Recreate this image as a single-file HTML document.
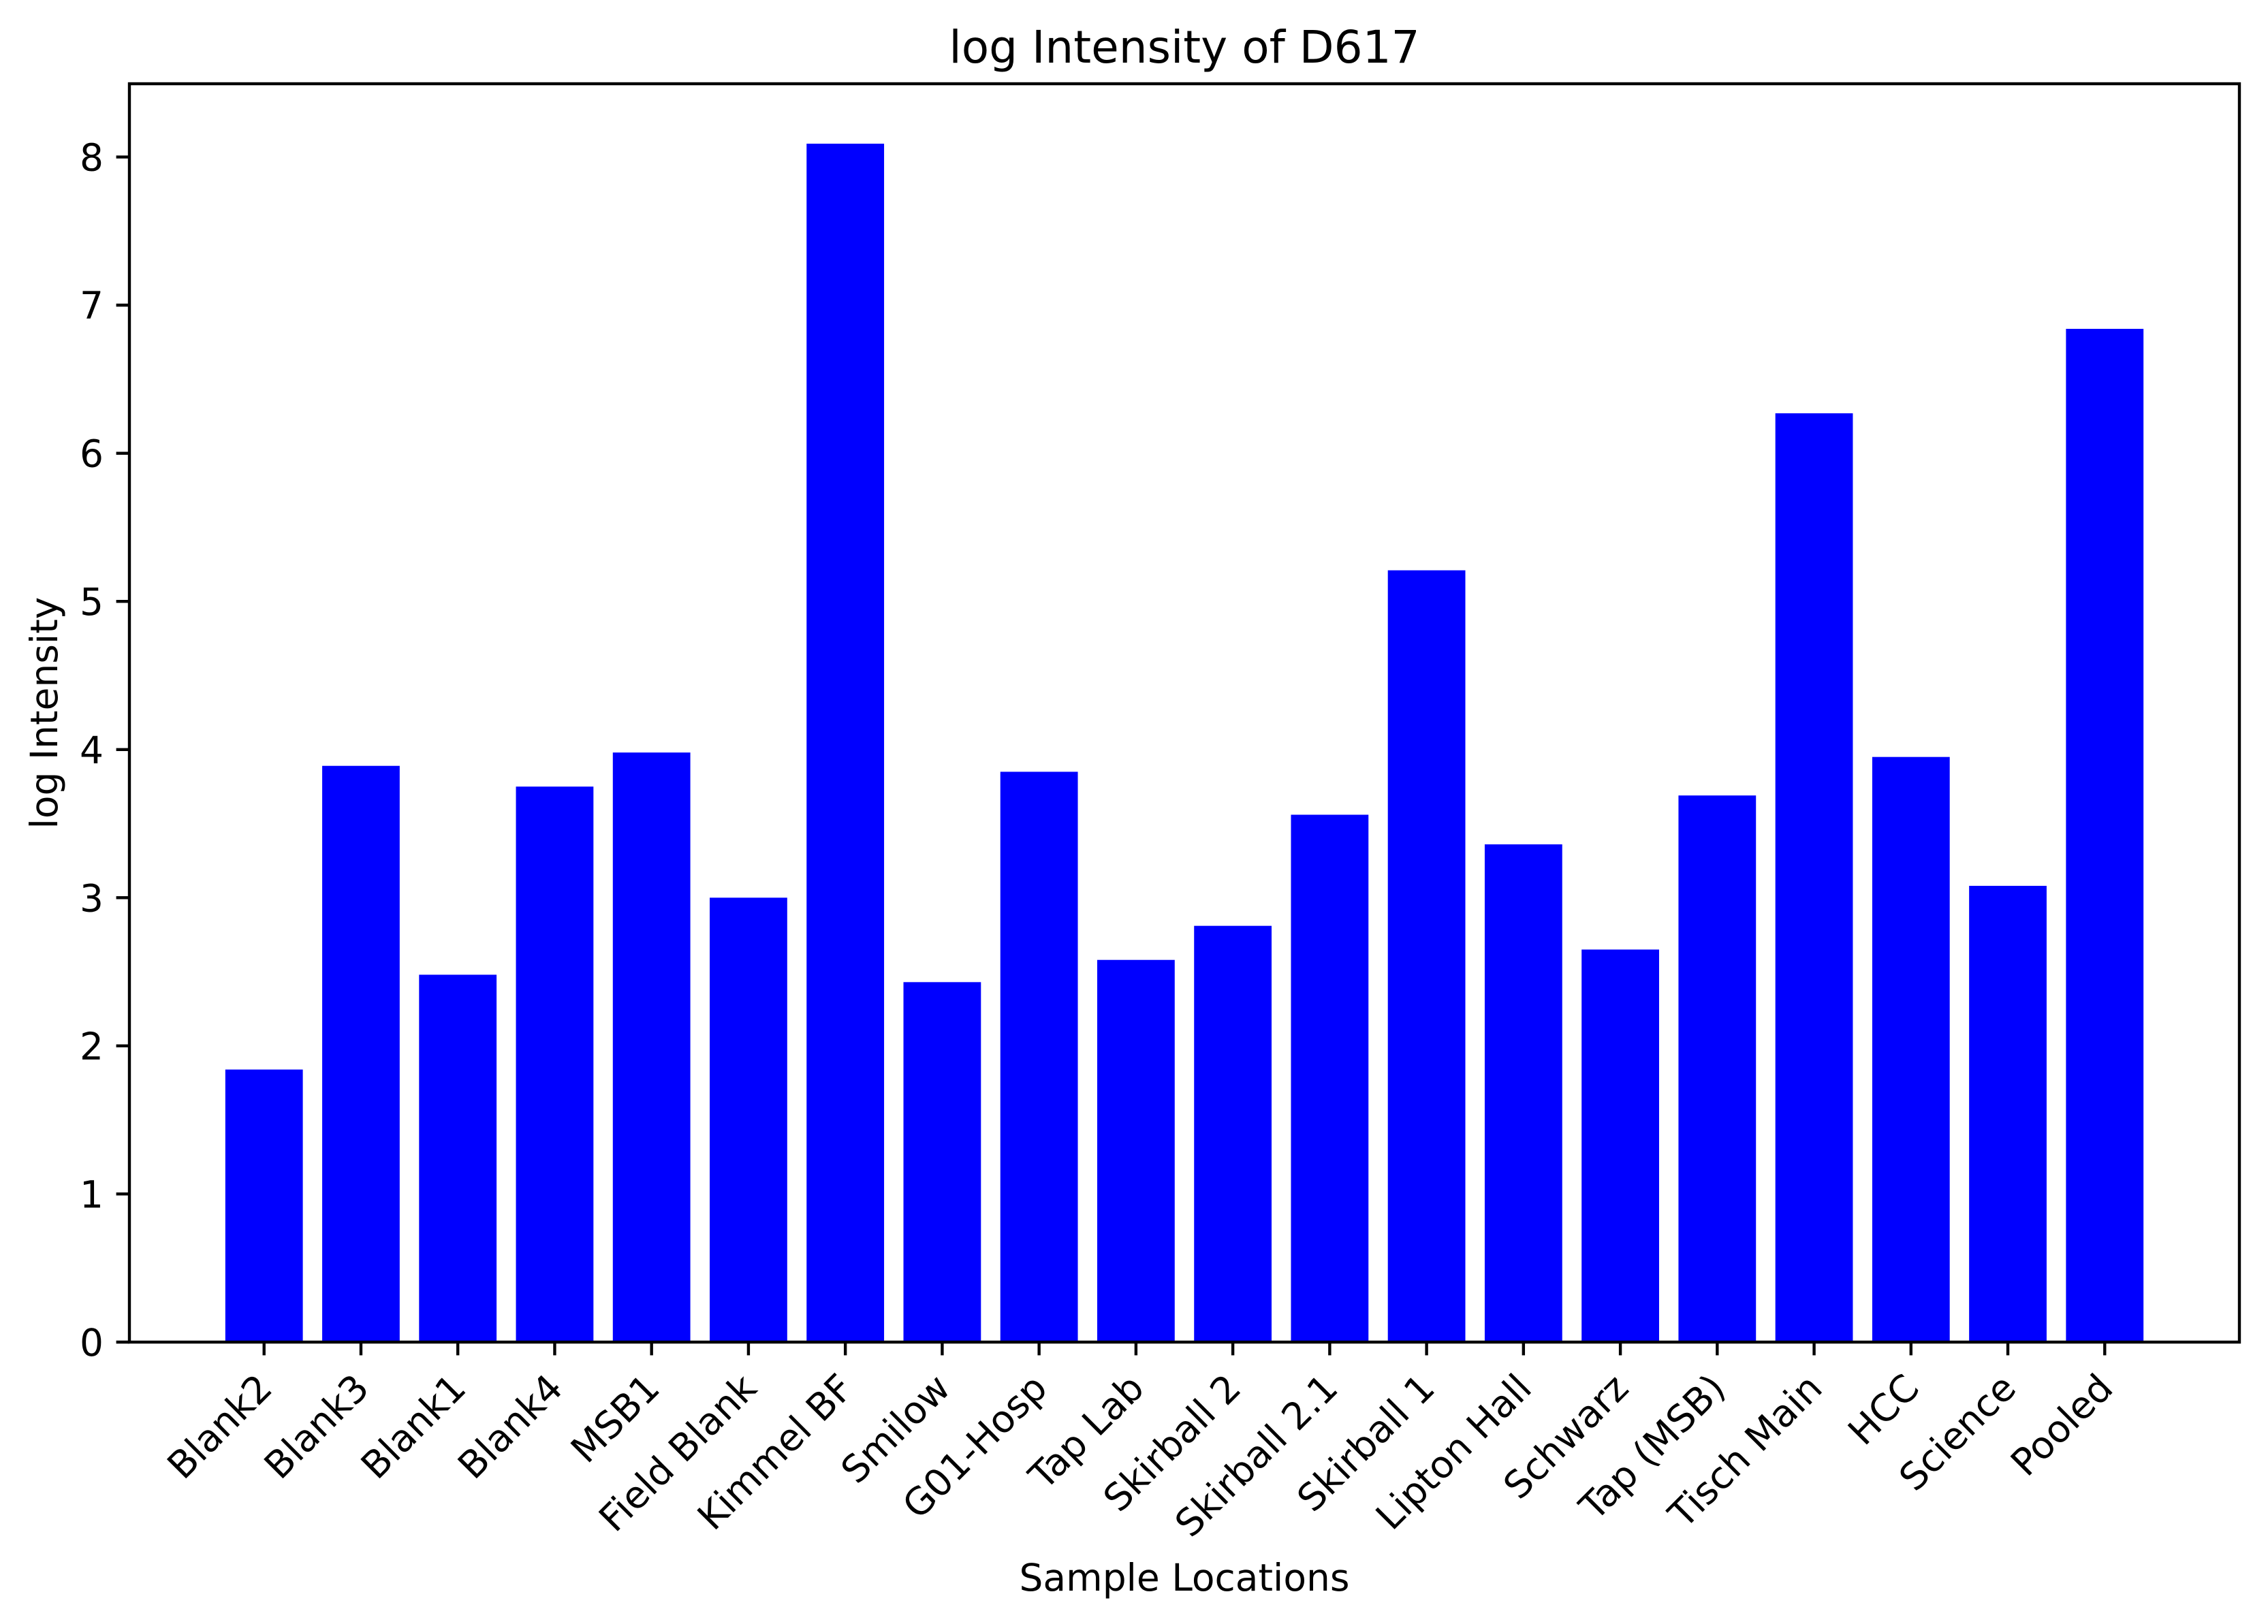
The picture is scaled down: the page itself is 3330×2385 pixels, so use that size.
<!DOCTYPE html>
<html><head><meta charset="utf-8"><style>
html,body{margin:0;padding:0;background:#fff;}
svg{display:block;font-family:"DejaVu Sans","Liberation Sans",sans-serif;}
</style></head><body>
<svg id="chart" width="3330" height="2385" viewBox="0 0 3330 2385" xmlns="http://www.w3.org/2000/svg">
<rect width="3330" height="2385" fill="#fff"/>
<text x="1739" y="92" font-size="66" text-anchor="middle">log Intensity of D617</text>
<text x="1739" y="2336" font-size="55" text-anchor="middle">Sample Locations</text>
<text transform="translate(84,1047) rotate(-90)" font-size="55" text-anchor="middle">log Intensity</text>
<g id="bars"></g>
<g id="yticks"></g>
<g id="xticks"></g>
<rect x="190" y="123" width="3098" height="1848" fill="none" stroke="#000" stroke-width="4.4"/>
</svg>
<script>
const categories = ["Blank2","Blank3","Blank1","Blank4","MSB1","Field Blank","Kimmel BF","Smilow","G01-Hosp","Tap Lab","Skirball 2","Skirball 2.1","Skirball 1","Lipton Hall","Schwarz","Tap (MSB)","Tisch Main","HCC","Science","Pooled"];
const values = [1.84,3.89,2.48,3.75,3.98,3.00,8.09,2.43,3.85,2.58,2.81,3.56,5.21,3.36,2.65,3.69,6.27,3.95,3.08,6.84];
const yTicks = [0,1,2,3,4,5,6,7,8];

const NS = "http://www.w3.org/2000/svg";
const L = 190, R = 3288, T = 123, B = 1971;
const n = categories.length;
const xmin = -0.4 - 0.05*(n - 0.2), xmax = (n - 1 + 0.4) + 0.05*(n - 0.2);
const ymax = Math.max(...values) * 1.05;
function xs(v){ return L + (v - xmin) / (xmax - xmin) * (R - L); }
function ys(v){ return B - v / ymax * (B - T); }
function mk(tag, attrs, parent){ const e = document.createElementNS(NS, tag); for (const k in attrs) e.setAttribute(k, attrs[k]); parent.appendChild(e); return e; }

const gb = document.getElementById("bars");
values.forEach((v, i) => {
  const x0 = xs(i - 0.4), x1 = xs(i + 0.4);
  const r = mk("rect", {x: x0, y: ys(v), width: x1 - x0, height: B - ys(v), fill: "#0000ff"}, gb);
  
  
});

const gy = document.getElementById("yticks");
yTicks.forEach(t => {
  const y = ys(t);
  const ln = mk("line", {x1: L - 19.4, x2: L, y1: y, y2: y, stroke: "#000", "stroke-width": 4.4}, gy);
  
  
  const tx = mk("text", {x: L - 38, y: y + 20, "font-size": 55, "text-anchor": "end"}, gy);
  tx.textContent = String(t);
  
  
});

const gx = document.getElementById("xticks");
categories.forEach((c, i) => {
  const x = xs(i);
  const ln = mk("line", {x1: x, x2: x, y1: B, y2: B + 19.4, stroke: "#000", "stroke-width": 4.4}, gx);
  
  
  const tx = mk("text", {transform: "translate(" + (x - 14) + "," + (B + 42) + ") rotate(-45)", "font-size": 55, "text-anchor": "end", "dominant-baseline": "hanging"}, gx);
  tx.textContent = c;
  
  
});
</script>
</body></html>
